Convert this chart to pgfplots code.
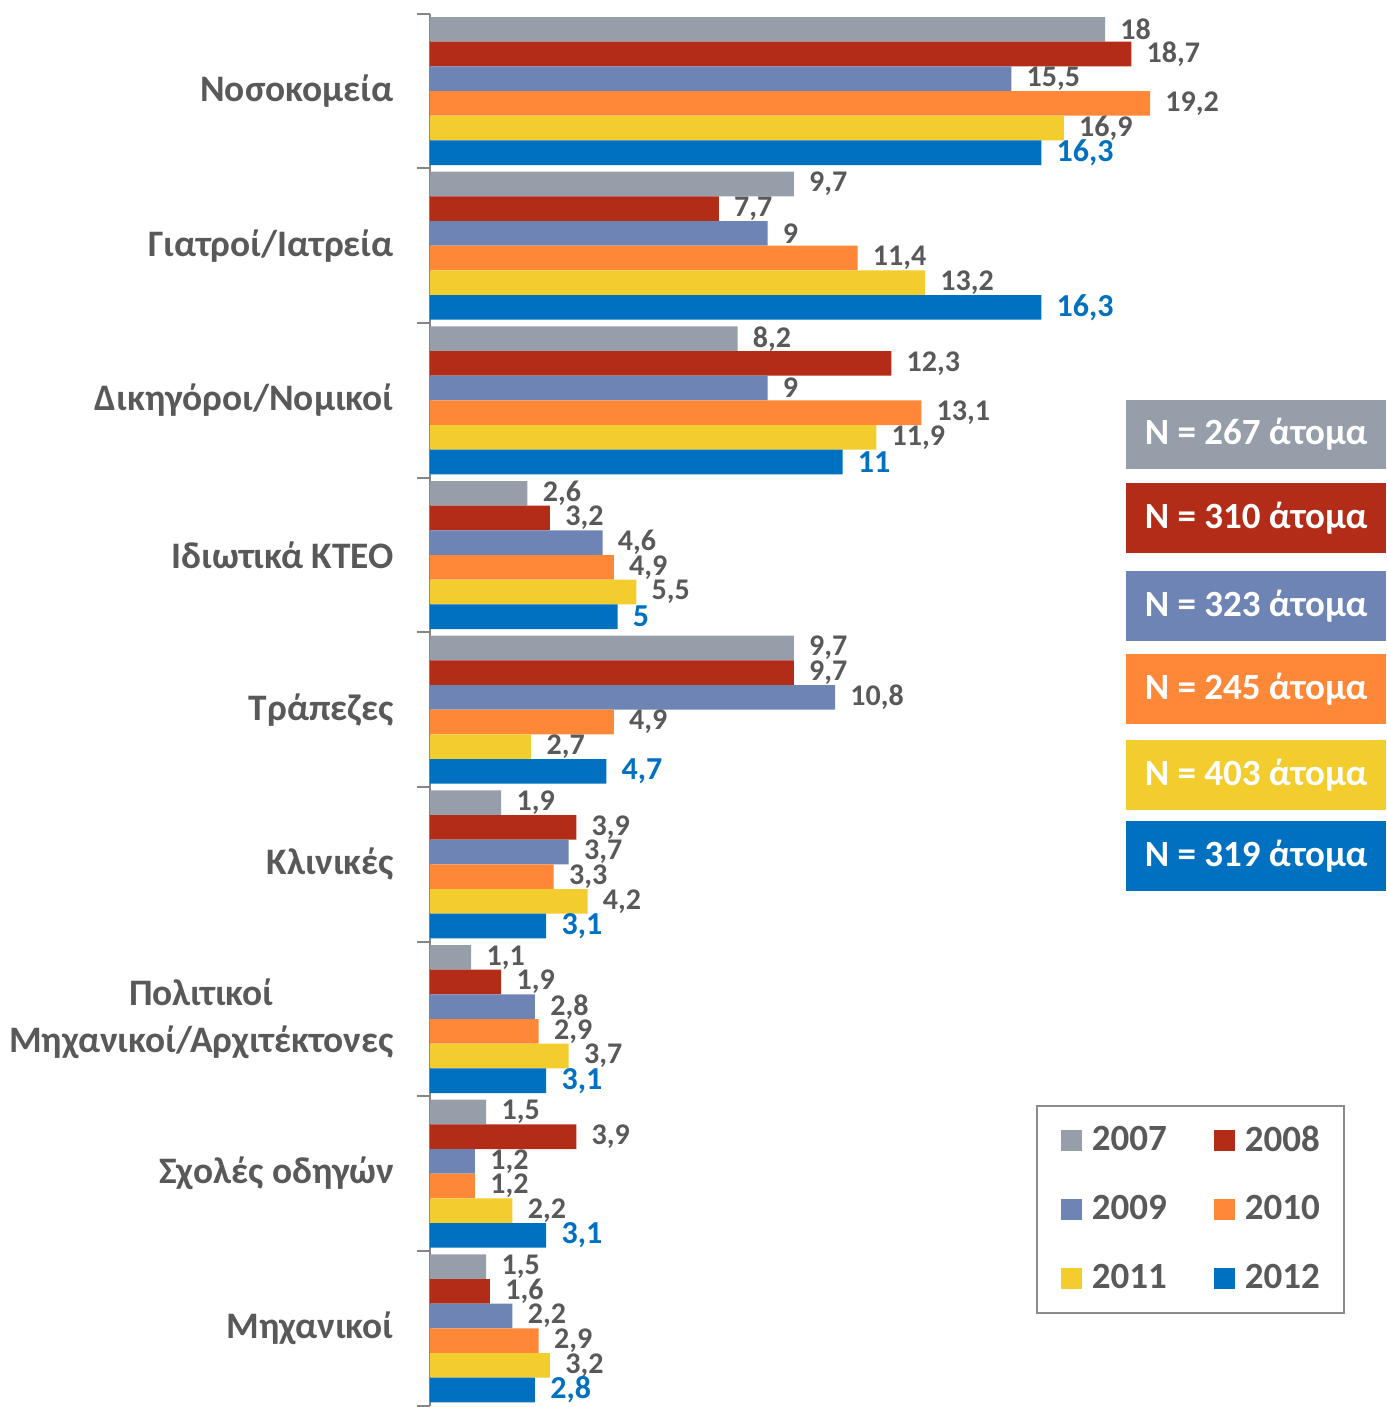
\documentclass[border=0pt]{standalone}
\usepackage{fontspec}
\setmainfont{Carlito}
\usepackage{pgfplots}
\pgfplotsset{compat=1.18}
\definecolor{c07}{HTML}{969EAA}
\definecolor{c08}{HTML}{B22C17}
\definecolor{c09}{HTML}{6D84B4}
\definecolor{c10}{HTML}{FF8738}
\definecolor{c11}{HTML}{F3CC2E}
\definecolor{c12}{HTML}{0070C0}
\definecolor{txt}{HTML}{595959}
\definecolor{axgray}{HTML}{868686}
\definecolor{leggray}{HTML}{8C8C8C}
\pgfplotsset{
  sqlegend/.style={legend image code/.code={\fill[##1,draw=none] (0pt,-5.25pt) rectangle (10.5pt,5.25pt);}},
}
\begin{document}
\begin{tikzpicture}
\begin{axis}[name=ax, at={(0,0)}, anchor=south west,
  scale only axis, width=478pt, height=696pt,
  xmin=0, xmax=25.493, ymin=-0.5, ymax=8.5, y dir=reverse,
  clip=false,
  xbar=0pt, bar width=0.1595,
  axis x line=none, axis y line*=left,
  ytick={0,...,8},
  yticklabels={{Νοσοκομεία},{Γιατροί/Ιατρεία},{Δικηγόροι/Νομικοί},{Ιδιωτικά ΚΤΕΟ},{Τράπεζες},{Κλινικές},{Πολιτικοί\\Μηχανικοί/Αρχιτέκτονες},{Σχολές οδηγών},{Μηχανικοί}},
  major tick length=0pt,
  minor ytick={-0.5,0.5,...,8.5},
  minor tick length=6.5pt, tick align=outside,
  y axis line style={draw=axgray, line width=1pt},
  every tick/.style={draw=axgray, line width=1pt},
  yticklabel style={font=\fontsize{18.7}{23.5}\selectfont\bfseries, text=txt, align=center, inner sep=0pt, xshift=-18pt},
  point meta=x,
  /pgf/number format/use comma,
  /pgf/number format/assume math mode=true,
  nodes near coords,
  nodes near coords style={anchor=west, inner sep=0pt, xshift=7.5pt, font=\fontsize{15}{15}\selectfont\bfseries, text=txt},
  legend columns=2,
  legend style={at={(0.634,0.216)}, anchor=north west, draw=leggray, line width=0.8pt,
    inner xsep=12pt, inner ysep=0pt,
    font=\fontsize{18.5}{18.5}\selectfont\bfseries,
    nodes={inner sep=0pt, minimum height=34.5pt, text=txt},
    /tikz/every odd column/.append style={column sep=5pt},
    /tikz/every even column/.append style={column sep=23.5pt}},
  legend cell align=left,
]
\addplot[fill=c07, draw=none, sqlegend]
  coordinates {(18,0) (9.7,1) (8.2,2) (2.6,3) (9.7,4) (1.9,5) (1.1,6) (1.5,7) (1.5,8)};
\addplot[fill=c08, draw=none, sqlegend]
  coordinates {(18.7,0) (7.7,1) (12.3,2) (3.2,3) (9.7,4) (3.9,5) (1.9,6) (3.9,7) (1.6,8)};
\addplot[fill=c09, draw=none, sqlegend]
  coordinates {(15.5,0) (9,1) (9,2) (4.6,3) (10.8,4) (3.7,5) (2.8,6) (1.2,7) (2.2,8)};
\addplot[fill=c10, draw=none, sqlegend]
  coordinates {(19.2,0) (11.4,1) (13.1,2) (4.9,3) (4.9,4) (3.3,5) (2.9,6) (1.2,7) (2.9,8)};
\addplot[fill=c11, draw=none, sqlegend]
  coordinates {(16.9,0) (13.2,1) (11.9,2) (5.5,3) (2.7,4) (4.2,5) (3.7,6) (2.2,7) (3.2,8)};
\addplot[fill=c12, draw=none, sqlegend,
  nodes near coords style={font=\fontsize{16}{16}\selectfont\bfseries, text=c12}]
  coordinates {(16.3,0) (16.3,1) (11,2) (5,3) (4.7,4) (3.1,5) (3.1,6) (3.1,7) (2.8,8)};
\legend{2007,2008,2009,2010,2011,2012}
\tikzset{nbox/.style={text=white, minimum width=130pt, minimum height=34.75pt, inner sep=0pt, font=\fontsize{18.5}{18.5}\selectfont\bfseries}}
\node[nbox, fill=c07] at (axis cs:22.03,2.221) {N = 267 άτομα};
\node[nbox, fill=c08] at (axis cs:22.03,2.760) {N = 310 άτομα};
\node[nbox, fill=c09] at (axis cs:22.03,3.330) {N = 323 άτομα};
\node[nbox, fill=c10] at (axis cs:22.03,3.866) {N = 245 άτομα};
\node[nbox, fill=c11] at (axis cs:22.03,4.422) {N = 403 άτομα};
\node[nbox, fill=c12] at (axis cs:22.03,4.946) {N = 319 άτομα};
\end{axis}
\pgfresetboundingbox
\path[use as bounding box] ([xshift=-215pt,yshift=-0.65pt]ax.south west) rectangle ([yshift=6.85pt]ax.north east);
\end{tikzpicture}
\end{document}
